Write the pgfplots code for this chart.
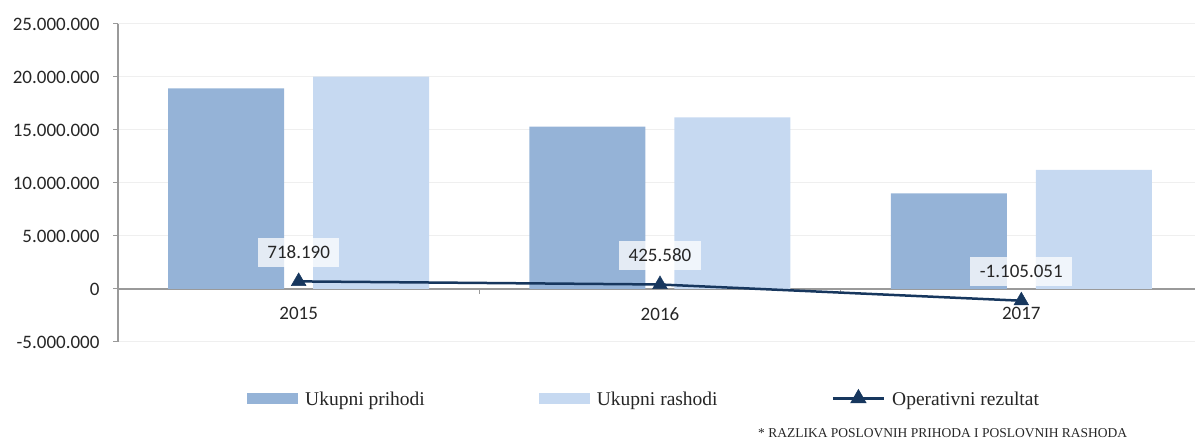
\documentclass[border=0pt]{standalone}
\usepackage{pgfplots}
\pgfplotsset{compat=1.18}
\usepackage{fontspec}
\setmainfont{Liberation Serif}
\newfontfamily\calibri{Carlito}
\definecolor{prih}{HTML}{95B3D7}
\definecolor{rash}{HTML}{C6D9F1}
\definecolor{oper}{HTML}{17375E}
\definecolor{gridc}{HTML}{EFEFEF}
\definecolor{axc}{HTML}{9A9A9A}
\definecolor{txt}{HTML}{262626}
\begin{document}
\begin{tikzpicture}
\path[use as bounding box] (0,0) rectangle (1195pt,439pt);
\clip (0,0) rectangle (1195pt,439pt);
\begin{axis}[
  at={(118pt,97pt)}, anchor=south west,
  scale only axis, width=1084pt, height=318pt,
  xmin=-0.5, xmax=2.5, ymin=-5000000, ymax=25000000,
  axis x line=middle, axis y line=left,
  axis line style={-, draw=axc, line width=1.2pt},
  ytick={-5000000,0,5000000,10000000,15000000,20000000,25000000},
  scaled y ticks=false,
  /pgf/number format/assume math mode=true,
  yticklabel style={xshift=-10pt, /pgf/number format/.cd, fixed, 1000 sep={.}},
  xticklabel style={yshift=-15pt},
  ticklabel style={font=\calibri\fontsize{19}{22}\selectfont, text=txt},
  ymajorgrids, grid style={draw=gridc, line width=1pt},
  major tick length=5pt, tick align=outside,
  tick style={draw=axc, line width=1pt},
  xtick={0.5,1.5}, xticklabels={},
  extra x ticks={0,1,2}, extra x tick labels={2015,2016,2017},
  extra x tick style={major tick length=0pt, grid=none},
  clip=false,
  legend style={at={(axis description cs:0.119,-0.1777)}, anchor=west,
    draw=none, fill=none, legend columns=3,
    font=\fontsize{19.5}{23}\selectfont, text=txt,
    inner sep=0pt, nodes={inner sep=0pt},
    /tikz/every odd column/.append style={column sep=7pt},
    /tikz/every even column/.append style={column sep=114pt}},
]
\addplot[ybar, bar width=116pt, bar shift=-72.5pt, fill=prih, draw=none,
  legend image code/.code={\fill[prih] (0pt,-4.5pt) rectangle (51pt,6.5pt);}]
  coordinates {(0,18930000) (1,15310000) (2,9030000)};
\addlegendentry{Ukupni prihodi}
\addplot[ybar, bar width=116pt, bar shift=72.5pt, fill=rash, draw=none,
  legend image code/.code={\fill[rash] (0pt,-4.5pt) rectangle (51pt,6.5pt);}]
  coordinates {(0,20030000) (1,16200000) (2,11230000)};
\addlegendentry{Ukupni rashodi}
\addplot[oper, line width=2.5pt, mark=triangle*, mark size=8.5pt,
  mark options={solid, fill=oper, line width=0.5pt},
  nodes near coords, point meta=explicit symbolic,
  every node near coord/.append style={anchor=center, yshift=29pt,
    font=\calibri\fontsize{19}{22}\selectfont, text=txt,
    fill=white, fill opacity=0.75, text opacity=1,
    inner xsep=9.5pt, inner ysep=0pt, minimum height=29pt},
  legend image code/.code={\draw[oper, line width=2.5pt] (0pt,1pt) -- (51pt,1pt);
    \fill[oper] (25.5pt,1pt) +(90:7pt) -- +(210:7pt) -- +(330:7pt) -- cycle;}]
  coordinates {(0,718190) [718.190] (1,425580) [425.580] (2,-1105051) [-1.105.051]};
\addlegendentry{Operativni rezultat}
\end{axis}
\node[anchor=base west, font=\fontsize{13.5}{16}\selectfont, text=txt, inner sep=0pt]
  at (758pt,1.5pt) {* RAZLIKA POSLOVNIH PRIHODA I POSLOVNIH RASHODA};
\end{tikzpicture}
\end{document}
